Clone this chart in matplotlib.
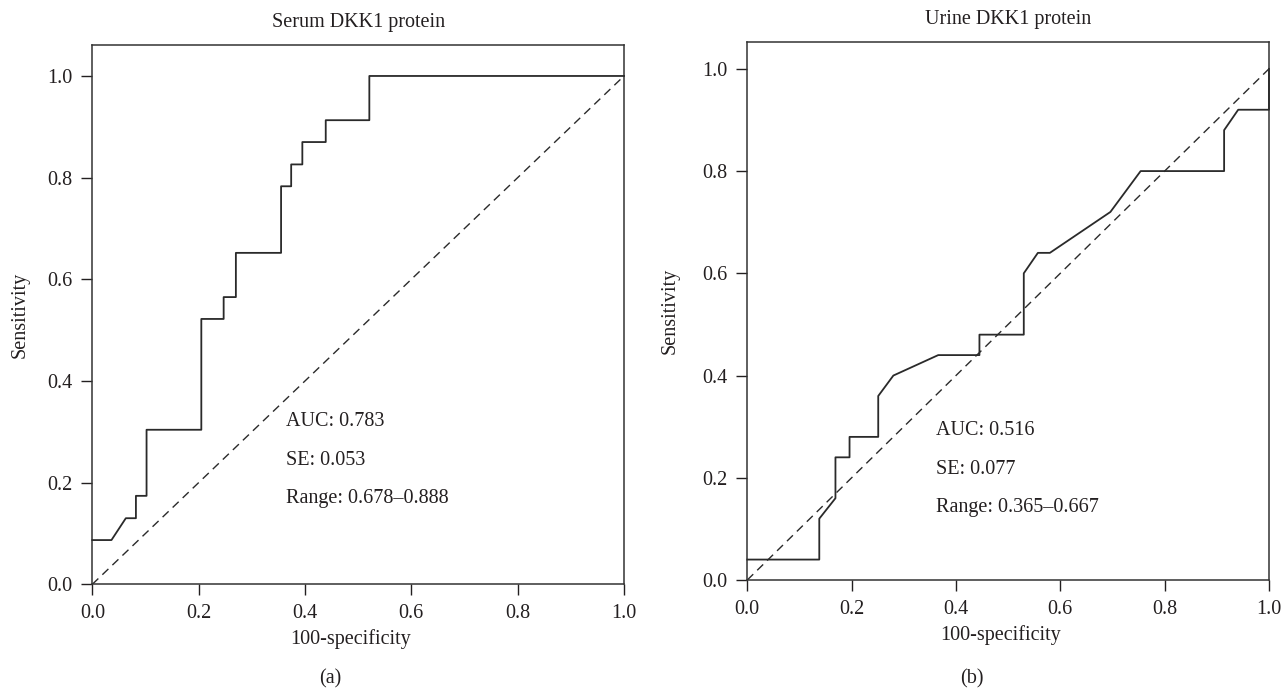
import matplotlib
matplotlib.use("Agg")
import matplotlib.pyplot as plt

# ROC step curves
serum_fpr = [0, 0.036, 0.063, 0.082, 0.082, 0.102, 0.102, 0.205, 0.205, 0.247, 0.247, 0.270,
             0.270, 0.355, 0.355, 0.374, 0.374, 0.395, 0.395, 0.439, 0.439, 0.521, 0.521, 1.0]
serum_tpr = [0.087, 0.087, 0.130, 0.130, 0.174, 0.174, 0.304, 0.304, 0.522, 0.522, 0.565, 0.565,
             0.652, 0.652, 0.783, 0.783, 0.826, 0.826, 0.870, 0.870, 0.913, 0.913, 1.0, 1.0]

urine_fpr = [0, 0.138, 0.138, 0.169, 0.169, 0.196, 0.196, 0.251, 0.251, 0.280, 0.366, 0.445,
             0.445, 0.530, 0.530, 0.557, 0.580, 0.696, 0.754, 0.914, 0.914, 0.941, 1.0, 1.0]
urine_tpr = [0.04, 0.04, 0.12, 0.16, 0.24, 0.24, 0.28, 0.28, 0.36, 0.40, 0.44, 0.44,
             0.48, 0.48, 0.60, 0.64, 0.64, 0.72, 0.80, 0.80, 0.88, 0.92, 0.92, 1.0]

titles = ["Serum DKK1 protein", "Urine DKK1 protein"]
stats = [["AUC: 0.783", "SE: 0.053", "Range: 0.678\u20130.888"],
         ["AUC: 0.516", "SE: 0.077", "Range: 0.365\u20130.667"]]
panel_tags = ["(a)", "(b)"]
ticks = [0.0, 0.2, 0.4, 0.6, 0.8, 1.0]

ink = "#231f20"
plt.rcParams["font.family"] = ["Liberation Serif", "DejaVu Serif"]
plt.rcParams["font.size"] = 14.5
plt.rcParams["text.color"] = ink
plt.rcParams["axes.labelcolor"] = ink
plt.rcParams["xtick.color"] = ink
plt.rcParams["ytick.color"] = ink

fig = plt.figure(figsize=(12.84, 6.90), dpi=100)
ax1 = fig.add_axes([0.0719, 0.1532, 0.4141, 0.7809])
ax2 = fig.add_axes([0.5820, 0.1594, 0.4063, 0.7801])

panels = [(ax1, serum_fpr, serum_tpr, 1.06, 0.32, 0.364, -0.135),
          (ax2, urine_fpr, urine_tpr, 1.053, 0.293, 0.362, -0.148)]

for i, (ax, fpr, tpr, ytop, text_y, text_x, ylab_x) in enumerate(panels):
    ax.plot(fpr, tpr, color="#2a2a2a", lw=1.3, clip_on=False, zorder=3)
    ax.plot([0, 1], [0, 1], color="#2a2a2a", lw=1.0, dashes=(6, 4))
    ax.set_xlim(0, 1)
    ax.set_ylim(0, ytop)
    ax.set_xticks(ticks)
    ax.set_yticks(ticks)
    ax.set_xticklabels(["%.1f" % t for t in ticks])
    ax.set_yticklabels(["%.1f" % t for t in ticks])
    ax.tick_params(direction="out", length=8, width=1.0, pad=6.5)
    for s in ax.spines.values():
        s.set_linewidth(1.1)
        s.set_color("#333333")

    ax.set_title(titles[i], fontsize=14.5, pad=13)
    ax.set_xlabel("100-specificity", va="center")
    ax.xaxis.set_label_coords(0.485, -0.102)
    ax.set_ylabel("Sensitivity", va="center")
    ax.yaxis.set_label_coords(ylab_x, 0.5)

    for j, line in enumerate(stats[i]):
        ax.text(text_x, text_y - j * 0.076, line, ha="left", va="center")

fig.text(330 / 1284, 1 - 679 / 690, panel_tags[0], ha="center", va="center")
fig.text(972 / 1284, 1 - 679 / 690, panel_tags[1], ha="center", va="center")

fig.savefig("out.png", dpi=100)
